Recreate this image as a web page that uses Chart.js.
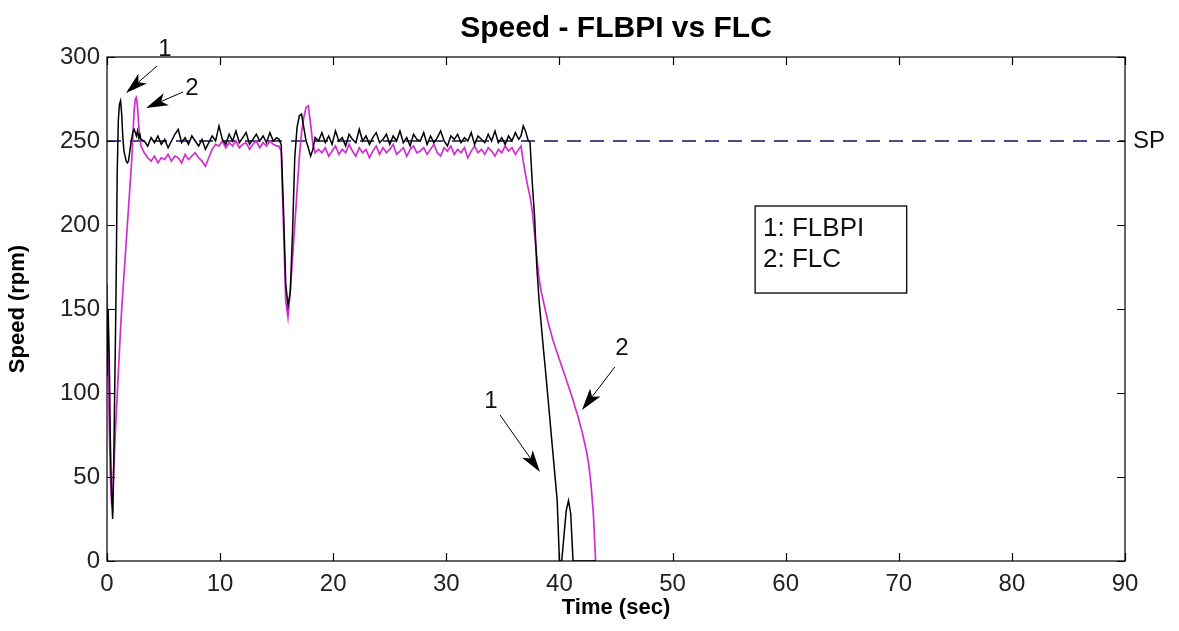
<!DOCTYPE html>
<html>
<head>
    <title>Speed - FLBPI vs FLC</title>
    <style>
        html, body { margin: 0; padding: 0; background: #fff; }
    </style>
    <script src="https://cdn.jsdelivr.net/npm/chart.js"></script>
</head>
<body>
    <canvas id="myChart" width="1179" height="631"></canvas>
    <script>
        // time (sec), shared by both traces
        var timeSec = [
            0, 0.1, 0.2, 0.3, 0.4, 0.5, 0.6, 0.7, 0.8, 0.9, 1.0, 1.1, 1.2, 1.3, 1.4, 1.5,
            1.6, 1.7, 1.8, 1.9, 2.0, 2.1, 2.2, 2.3, 2.4, 2.5, 2.6, 2.7, 2.8, 2.9, 3.0,
            3.3, 3.6, 3.9, 4.2, 4.5, 4.8, 5.1, 5.4, 5.7, 6.0, 6.3, 6.6, 6.9, 7.2, 7.5, 7.8,
            8.1, 8.4, 8.7, 9.0, 9.3, 9.6, 9.9, 10.2, 10.5, 10.8, 11.1, 11.4, 11.7, 12.0,
            12.3, 12.6, 12.9, 13.2, 13.5, 13.8, 14.1, 14.4, 14.7, 15.0,
            15.2, 15.4, 15.6, 15.8, 16.0, 16.2, 16.4, 16.6, 16.8, 17.0, 17.2, 17.4, 17.6,
            17.8, 18.0, 18.2, 18.4,
            18.7, 19.0, 19.3, 19.6, 19.9, 20.2, 20.5, 20.8, 21.1, 21.4,
            21.7, 22.0, 22.3, 22.6, 22.9, 23.2, 23.5, 23.8, 24.1, 24.4,
            24.7, 25.0, 25.3, 25.6, 25.9, 26.2, 26.5, 26.8, 27.1, 27.4,
            27.7, 28.0, 28.3, 28.6, 28.9, 29.2, 29.5, 29.8, 30.1, 30.4,
            30.7, 31.0, 31.3, 31.6, 31.9, 32.2, 32.5, 32.8, 33.1, 33.4,
            33.7, 34.0, 34.3, 34.6, 34.9, 35.2, 35.5, 35.8, 36.1, 36.4,
            36.6, 36.8, 37.0, 37.2, 37.4, 37.6, 37.8, 38.0, 38.2, 38.4,
            38.6, 38.8, 39.0, 39.2, 39.4, 39.6, 39.8, 40.0, 40.2, 40.4,
            40.6, 40.8, 41.0, 41.2, 41.4, 41.6, 41.8, 42.0, 42.2, 42.4,
            42.6, 42.8, 43.0, 43.2
        ];

        // 1: FLBPI (black)
        var flbpiSpeed = [
            110, 150, 120, 70, 40, 25, 60, 110, 160, 230, 262, 272, 274, 266, 252, 244,
            241, 238, 237, 238, 243, 248, 252, 256, 257, 255, 253, 256, 252, 254, 251,
            250, 247, 252, 249, 253, 248, 251, 246, 250, 254, 257, 249, 252, 248, 253, 250,
            247, 251, 245, 249, 253, 250, 259, 251, 248, 254, 250, 256, 249, 252,
            255, 248, 251, 254, 250, 253, 249, 255, 250, 252,
            251, 248, 210, 165, 152, 160, 195, 240, 258, 265, 266, 258, 250,
            246, 241, 245, 252,
            250, 255, 249, 253, 248, 256, 250, 252, 247, 254,
            251, 249, 257, 250, 253, 248, 252, 255, 249, 251,
            254, 248, 253, 250, 256, 249, 252, 247, 254, 251,
            250, 255, 248, 253, 249, 252, 256, 250, 247, 253,
            251, 254, 249, 252, 250, 255, 248, 253, 251, 249,
            254, 250, 256, 249, 252, 248, 253, 250, 255, 251,
            253, 259, 256, 251, 249, 225, 205, 175, 155, 140,
            125, 111, 96, 81, 66, 51, 36, 0, 0, 15,
            30, 36, 28, 0, 0, 0, 0, 0, 0, 0,
            0, 0, 0, 0
        ];

        // 2: FLC (magenta)
        var flcSpeed = [
            165, 120, 80, 50, 35, 32, 55, 70, 85, 98, 112, 125, 138, 150, 160, 170,
            180, 190, 200, 210, 220, 230, 240, 255, 268, 275, 276, 270, 260, 252, 247,
            243, 240, 238, 241, 237, 240, 239, 242, 238, 241, 240, 237, 242, 239, 241, 243,
            240, 238, 235, 240, 245, 248, 247, 250, 246, 249, 247, 250, 246, 248,
            249, 245, 248, 250, 246, 249, 247, 250, 248, 247,
            247, 244, 200, 155, 145, 160, 180, 200, 220, 240, 255, 264, 270,
            271, 260, 248, 243,
            245, 243, 246, 241, 244, 247, 242, 245, 243, 248,
            244, 241, 246, 243, 245, 240, 244, 247, 242, 246,
            243, 245, 248, 242, 244, 246, 241, 245, 247, 243,
            244, 246, 242, 245, 248, 243, 241, 246, 244, 247,
            242, 245, 243, 246, 240, 244, 247, 243, 245, 242,
            246, 244, 241, 245, 243, 247, 244, 246, 242, 245,
            247, 238, 230, 223, 217, 208, 195, 181, 168, 160,
            154, 148, 142, 137, 132, 128, 124, 120, 116, 112,
            108, 104, 100, 96, 91, 87, 82, 77, 71, 65,
            57, 45, 28, 0
        ];

        // set point
        var spTime = [0, 90];
        var spSpeed = [250, 250];

        var xTicks = [0, 10, 20, 30, 40, 50, 60, 70, 80, 90];
        var yTicks = [0, 50, 100, 150, 200, 250, 300];

        var legendLines = ['1: FLBPI', '2: FLC'];

        // arrows with their numbers, in data units (sec, rpm)
        var arrows = [
            { label: '1', at: [5.13, 304.8], from: [4.42, 294.6], to: [1.68, 278.6] },
            { label: '2', at: [7.51, 281.5], from: [6.72, 279.2], to: [3.45, 269.6] },
            { label: '1', at: [33.95, 95.2], from: [34.75, 86.9], to: [38.28, 53] },
            { label: '2', at: [45.53, 126.8], from: [44.9, 115.5], to: [41.99, 89.9] }
        ];
        var legendBox = { x0: 57.3, x1: 70.7, y0: 211.3, y1: 159.5, textX: 58.0, textY: [198, 179] };

        var FONT = "'Liberation Sans', Arial, sans-serif";
        Chart.defaults.font.family = FONT;
        Chart.defaults.color = '#222';

        function pts(xs, ys) {
            return xs.map(function (t, i) { return { x: t, y: ys[i] }; });
        }

        var matlabFrame = {
            id: 'matlabFrame',
            afterDraw: function (chart) {
                var c = chart.ctx, a = chart.chartArea;
                var xs = chart.scales.x, ys = chart.scales.y;
                c.save();
                c.strokeStyle = '#000';
                c.lineWidth = 1.2;
                c.strokeRect(a.left, a.top, a.right - a.left, a.bottom - a.top);

                // inward tick marks on all four sides
                c.beginPath();
                xTicks.forEach(function (v) {
                    var px = Math.round(xs.getPixelForValue(v)) + 0.5;
                    c.moveTo(px, a.bottom); c.lineTo(px, a.bottom - 8);
                    c.moveTo(px, a.top); c.lineTo(px, a.top + 8);
                });
                yTicks.forEach(function (v) {
                    var py = Math.round(ys.getPixelForValue(v)) + 0.5;
                    c.moveTo(a.left, py); c.lineTo(a.left + 8, py);
                    c.moveTo(a.right, py); c.lineTo(a.right - 8, py);
                });
                c.stroke();

                // SP label
                c.fillStyle = '#111';
                c.font = '24px ' + FONT;
                c.textAlign = 'left';
                c.textBaseline = 'middle';
                c.fillText('SP', a.right + 8, ys.getPixelForValue(250));

                // text box
                var bx0 = xs.getPixelForValue(legendBox.x0), bx1 = xs.getPixelForValue(legendBox.x1);
                var by0 = ys.getPixelForValue(legendBox.y0), by1 = ys.getPixelForValue(legendBox.y1);
                c.fillStyle = '#fff';
                c.fillRect(bx0, by0, bx1 - bx0, by1 - by0);
                c.lineWidth = 1.3;
                c.strokeRect(bx0, by0, bx1 - bx0, by1 - by0);
                c.fillStyle = '#111';
                c.font = '26px ' + FONT;
                legendLines.forEach(function (s, i) {
                    c.fillText(s, xs.getPixelForValue(legendBox.textX), ys.getPixelForValue(legendBox.textY[i]));
                });

                // arrows
                c.textAlign = 'center';
                c.font = '24px ' + FONT;
                arrows.forEach(function (ar) {
                    var x1 = xs.getPixelForValue(ar.from[0]), y1 = ys.getPixelForValue(ar.from[1]);
                    var x2 = xs.getPixelForValue(ar.to[0]), y2 = ys.getPixelForValue(ar.to[1]);
                    var ang = Math.atan2(y2 - y1, x2 - x1);
                    var len = 22, half = 6.5;
                    var bx = x2 - len * Math.cos(ang), by = y2 - len * Math.sin(ang);
                    var nx = x2 - len * 0.75 * Math.cos(ang), ny = y2 - len * 0.75 * Math.sin(ang);
                    c.lineWidth = 1;
                    c.beginPath();
                    c.moveTo(x1, y1); c.lineTo(nx, ny);
                    c.stroke();
                    c.beginPath();
                    c.moveTo(x2, y2);
                    c.lineTo(bx + half * Math.sin(ang), by - half * Math.cos(ang));
                    c.lineTo(nx, ny);
                    c.lineTo(bx - half * Math.sin(ang), by + half * Math.cos(ang));
                    c.closePath();
                    c.fillStyle = '#000';
                    c.fill();
                    c.fillStyle = '#111';
                    c.fillText(ar.label, xs.getPixelForValue(ar.at[0]), ys.getPixelForValue(ar.at[1]));
                });
                c.restore();
            }
        };

        var ctx = document.getElementById('myChart').getContext('2d');
        var myChart = new Chart(ctx, {
            type: 'line',
            data: {
                datasets: [{
                    label: 'FLBPI',
                    data: pts(timeSec, flbpiSpeed),
                    borderColor: '#000000',
                    borderWidth: 1.5,
                    pointRadius: 0,
                    order: 0
                },
                {
                    label: 'FLC',
                    data: pts(timeSec, flcSpeed),
                    borderColor: '#d02ed0',
                    borderWidth: 1.7,
                    pointRadius: 0,
                    order: 1
                },
                {
                    label: 'SP',
                    data: pts(spTime, spSpeed),
                    borderColor: '#121258',
                    borderWidth: 1.5,
                    borderDash: [14, 9],
                    pointRadius: 0,
                    order: 2
                }]
            },
            options: {
                responsive: false,
                animation: false,
                devicePixelRatio: 1,
                layout: { padding: { left: 0, top: 0, right: 54, bottom: 0 } },
                plugins: {
                    legend: { display: false },
                    tooltip: { enabled: false },
                    title: {
                        display: true,
                        fullSize: false,
                        text: 'Speed - FLBPI vs FLC',
                        color: '#000',
                        font: { size: 30, weight: 'bold' },
                        padding: { top: 11, bottom: 10 }
                    }
                },
                scales: {
                    x: {
                        type: 'linear',
                        min: 0,
                        max: 90,
                        afterBuildTicks: function (s) { s.ticks = xTicks.map(function (v) { return { value: v }; }); },
                        afterFit: function (s) { s.height = 70; },
                        grid: { display: false, drawTicks: false },
                        border: { display: false },
                        ticks: { padding: 9, font: { size: 24 }, maxRotation: 0, autoSkip: false },
                        title: {
                            display: true,
                            text: 'Time (sec)',
                            color: '#000',
                            font: { size: 22, weight: 'bold' },
                            padding: { top: 0, bottom: 10 }
                        }
                    },
                    y: {
                        min: 0,
                        max: 300,
                        afterBuildTicks: function (s) { s.ticks = yTicks.map(function (v) { return { value: v }; }); },
                        afterFit: function (s) { s.width = 107; },
                        grid: { display: false, drawTicks: false },
                        border: { display: false },
                        ticks: { padding: 7, font: { size: 24 }, autoSkip: false },
                        title: {
                            display: true,
                            text: 'Speed (rpm)',
                            color: '#000',
                            font: { size: 22, weight: 'bold' },
                            padding: { top: 5, bottom: 0 }
                        }
                    }
                }
            },
            plugins: [matlabFrame]
        });
    </script>
</body>
</html>
